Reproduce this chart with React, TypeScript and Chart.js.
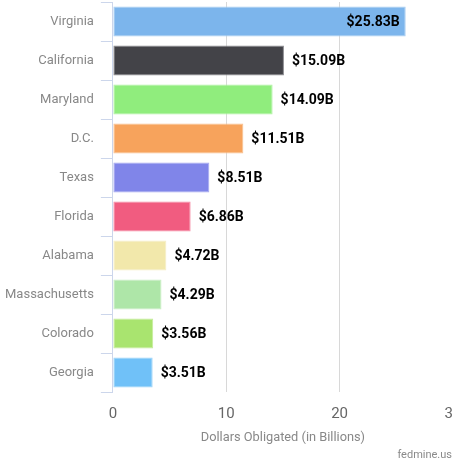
import React, { useEffect, useRef } from "react";
import { Chart, registerables } from "chart.js";

Chart.register(...registerables);

const states = ["Virginia", "California", "Maryland", "D.C.", "Texas", "Florida", "Alabama", "Massachusetts", "Colorado", "Georgia"];
const obligated = [25.83, 15.09, 14.09, 11.51, 8.51, 6.86, 4.72, 4.29, 3.56, 3.51];
const barColors = ["#7cb5ec", "#434348", "#90ed7d", "#f7a35c", "#8085e9", "#f15c80", "#f2e8ab", "#aee6a8", "#a9e46f", "#70c1f8"];
const borderColors = ["#a8cdf2", "#8a8a8e", "#aef2a0", "#f9c08e", "#a6a9ef", "#f58aa4", "#f6eec4", "#c8eec3", "#c4ec99", "#9ad3f9"];
const xTicks = [0, 10, 20, 30];
const axisTitle = "Dollars Obligated (in Billions)";
const creditText = "fedmine.us";

const labelPlugin = {
  id: "valueLabels",
  afterDatasetsDraw(chart: any) {
    const ctx = chart.ctx;
    const meta = chart.getDatasetMeta(0);
    ctx.save();
    ctx.font = "bold 14px Roboto";
    ctx.fillStyle = "#000";
    ctx.textBaseline = "middle";
    meta.data.forEach((bar: any, i: number) => {
      const txt = "$" + obligated[i].toFixed(2) + "B";
      const w = ctx.measureText(txt).width;
      if (bar.x + 8 + w > chart.chartArea.right - 2) {
        ctx.textAlign = "right";
        ctx.fillText(txt, bar.x - 6, bar.y + 1);
      } else {
        ctx.textAlign = "left";
        ctx.fillText(txt, bar.x + 8, bar.y + 1);
      }
    });
    ctx.restore();
  },
  afterDraw(chart: any) {
    const ctx = chart.ctx;
    ctx.save();
    ctx.font = "11px Roboto";
    ctx.fillStyle = "#8a8a8a";
    ctx.textAlign = "right";
    ctx.textBaseline = "middle";
    ctx.fillText(creditText, 454, 455);
    ctx.restore();
  },
};

export default function App() {
  const ref = useRef<HTMLCanvasElement>(null);
  useEffect(() => {
    if (!ref.current) return;
    const chart = new Chart(ref.current, {
      type: "bar",
      data: {
        labels: states,
        datasets: [
          {
            data: obligated,
            backgroundColor: barColors,
            borderColor: borderColors,
            borderWidth: 1,
            borderSkipped: false,
            categoryPercentage: 1,
            barPercentage: 0.77,
          },
        ],
      },
      plugins: [labelPlugin],
      options: {
        indexAxis: "y",
        animation: false,
        responsive: false,
        maintainAspectRatio: false,
        layout: { padding: { left: 0, top: 2, right: 0, bottom: 21 } },
        plugins: { legend: { display: false }, tooltip: { enabled: false } },
        scales: {
          x: {
            min: 0,
            max: 30,
            afterBuildTicks: (axis: any) => {
              axis.ticks = xTicks.map((v) => ({ value: v }));
            },
            afterFit: (axis: any) => {
              axis.paddingRight = 0;
              axis.height = 53;
            },
            grid: {
              color: (c: any) => (c.tick && c.tick.value === 0 ? "rgba(0,0,0,0)" : "#d8d8d8"),
              drawTicks: false,
            },
            border: { display: false },
            ticks: { color: "#666", font: { family: "Roboto", size: 15 }, padding: 13 },
            title: {
              display: true,
              text: axisTitle,
              color: "#888",
              font: { family: "Roboto", size: 12.8 },
              padding: { top: 8, bottom: 0 },
            },
          },
          y: {
            afterFit: (axis: any) => {
              axis.paddingTop = 0;
              axis.paddingBottom = 0;
            },
            grid: { offset: true, drawOnChartArea: false, color: "#ccd6eb", tickLength: 12 },
            border: { display: true, color: "#ccd6eb" },
            ticks: { color: "#888", font: { family: "Roboto", size: 13 }, padding: 7 },
          },
        },
      },
    });
    return () => chart.destroy();
  }, []);
  return (
    <div style={{ position: "fixed", left: -2, top: 0, width: 455, height: 466 }}>
      <canvas ref={ref} width={455} height={466} />
    </div>
  );
}
